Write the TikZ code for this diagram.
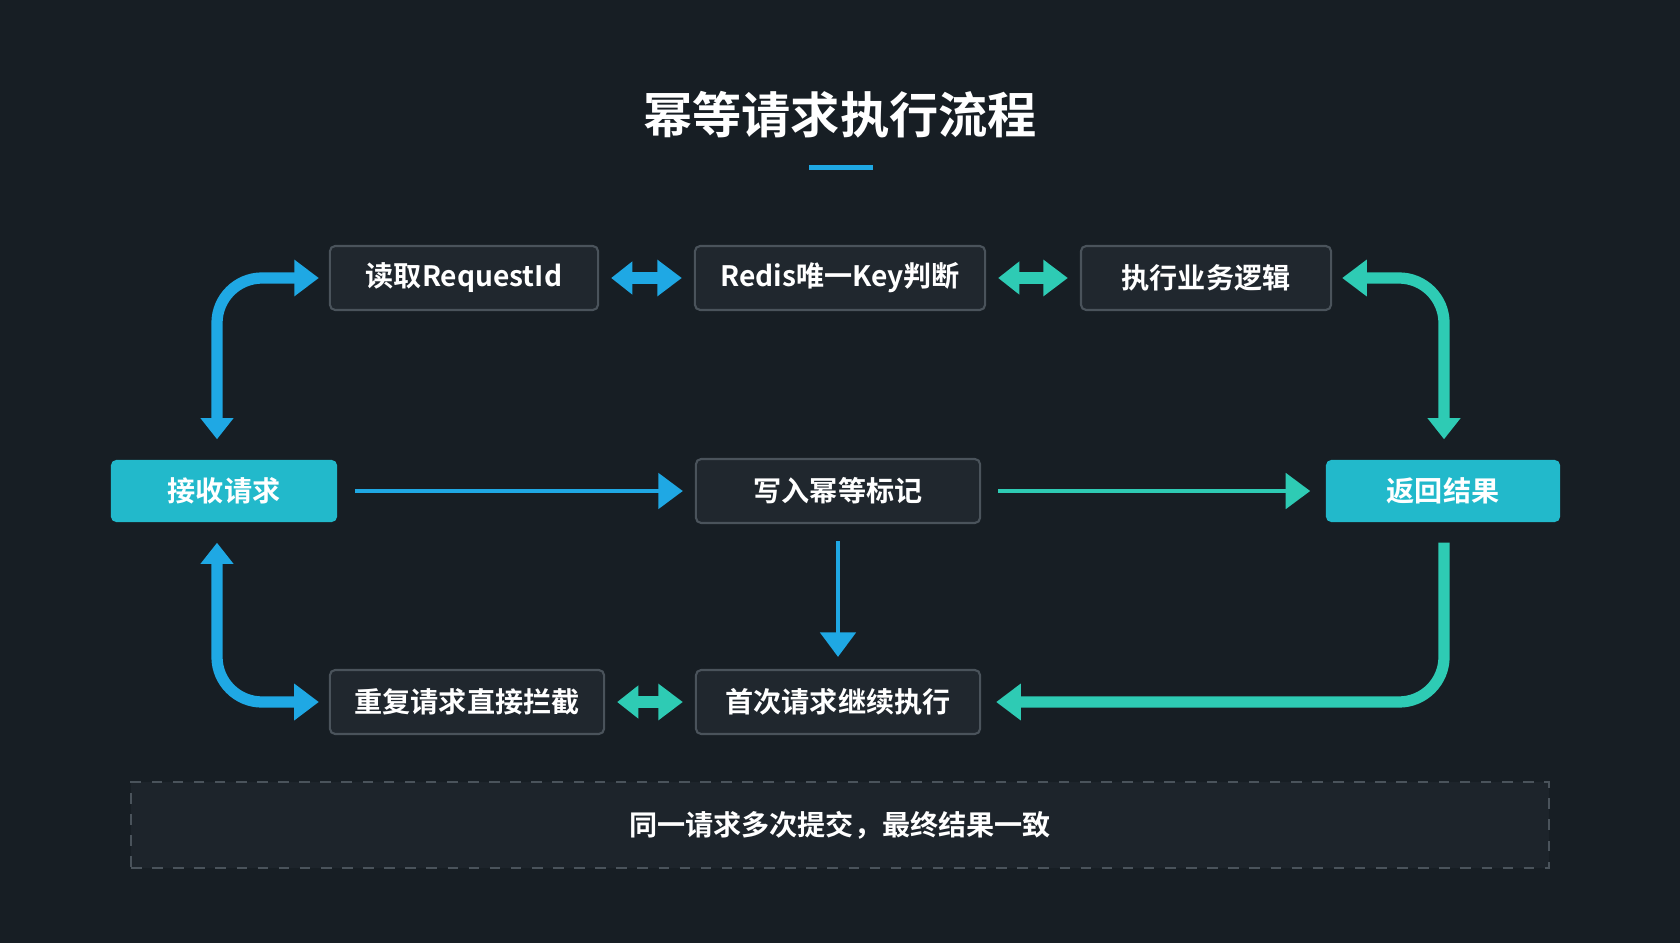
\documentclass[tikz,border=0pt]{standalone}
\usepackage{fontspec}
\setmainfont{Noto Sans CJK SC}[BoldFont={* Bold}]
\usetikzlibrary{arrows.meta, positioning}
\definecolor{bg}{HTML}{171E24}
\definecolor{boxbg}{HTML}{20272E}
\definecolor{boxline}{HTML}{4A535B}
\definecolor{blueA}{HTML}{1FA8E4}
\definecolor{tealA}{HTML}{2ECBB4}
\definecolor{tealbox}{HTML}{22B9CB}
\tikzset{
  stepbox/.style={draw=boxline, fill=boxbg, line width=0.6pt, rounded corners=1.5pt,
    minimum height=0.64cm, text=white, font=\bfseries\fontsize{8pt}{10pt}\selectfont},
  keybox/.style={fill=tealbox, rounded corners=1.5pt, minimum height=0.62cm,
    text=white, font=\bfseries\fontsize{8pt}{10pt}\selectfont},
  fat/.style={line width=3.2pt, rounded corners=0.45cm, line cap=butt},
  thin/.style={line width=1.4pt},
  big/.style={-{Triangle[length=7pt,width=10pt]}},
  both/.style={{Triangle[length=6pt,width=9pt]}-{Triangle[length=7pt,width=10pt]}},
}
\begin{document}
\begin{tikzpicture}[x=0.01cm, y=-0.01cm]
  \fill[bg] (0,0) rectangle (1680,943);
  \useasboundingbox (0,0) rectangle (1680,943);

  % title
  \node[text=white, font=\bfseries\fontsize{14pt}{16pt}\selectfont] (title) at (840,115) {幂等请求执行流程};
  \fill[blueA] (809,165) rectangle (873,170);

  % top row
  \node[stepbox, minimum width=2.68cm] (read) at (464,278) {读取RequestId};
  \node[stepbox, minimum width=2.90cm] (redis) at (840,278) {Redis唯一Key判断};
  \node[stepbox, minimum width=2.50cm] (exec) at (1206,278) {执行业务逻辑};

  % middle row
  \node[keybox, minimum width=2.26cm] (recv) at (224,491) {接收请求};
  \node[stepbox, minimum width=2.84cm] (mark) at (838,491) {写入幂等标记};
  \node[keybox, minimum width=2.34cm] (ret) at (1443,491) {返回结果};

  % bottom row
  \node[stepbox, minimum width=2.74cm] (dup) at (467,702) {重复请求直接拦截};
  \node[stepbox, minimum width=2.84cm] (first) at (838,702) {首次请求继续执行};

  % note
  \node[draw=boxline, dashed, fill=boxbg!70!bg, minimum width=14.17cm, minimum height=0.86cm,
    text=white, font=\bfseries\fontsize{8pt}{10pt}\selectfont] (note) at (840,825) {同一请求多次提交，最终结果一致};

  % connectors
  \coordinate (c1) at (217,278);
  \coordinate (c2) at (1444,278);
  \coordinate (c3) at (1444,702);
  \coordinate (c4) at (217,702);
  \draw[fat, both, blueA] ([yshift=0.2cm]recv.north -| c1) |- ([xshift=-0.1cm]read.west);
  \draw[fat, both, blueA] ([yshift=-0.2cm]recv.south -| c1) |- ([xshift=-0.1cm]dup.west);
  \draw[fat, both, tealA] ([yshift=0.2cm]ret.north -| c2) |- ([xshift=0.1cm]exec.east);
  \draw[fat, big, tealA] ([yshift=-0.2cm]ret.south -| c3) |- ([xshift=0.15cm]first.east);
  \draw[fat, both, blueA] ([xshift=0.12cm]read.east) -- ([xshift=-0.12cm]redis.west);
  \draw[fat, both, tealA] ([xshift=0.12cm]redis.east) -- ([xshift=-0.12cm]exec.west);
  \draw[fat, both, tealA] ([xshift=0.12cm]dup.east) -- ([xshift=-0.12cm]first.west);
  \draw[thin, big, blueA] ([xshift=0.17cm]recv.east) -- ([xshift=-0.12cm]mark.west);
  \draw[thin, big, tealA] ([xshift=0.17cm]mark.east) -- ([xshift=-0.15cm]ret.west);
  \draw[thin, big, blueA] ([yshift=-0.17cm]mark.south) -- ([yshift=0.12cm]first.north);
\end{tikzpicture}
\end{document}
